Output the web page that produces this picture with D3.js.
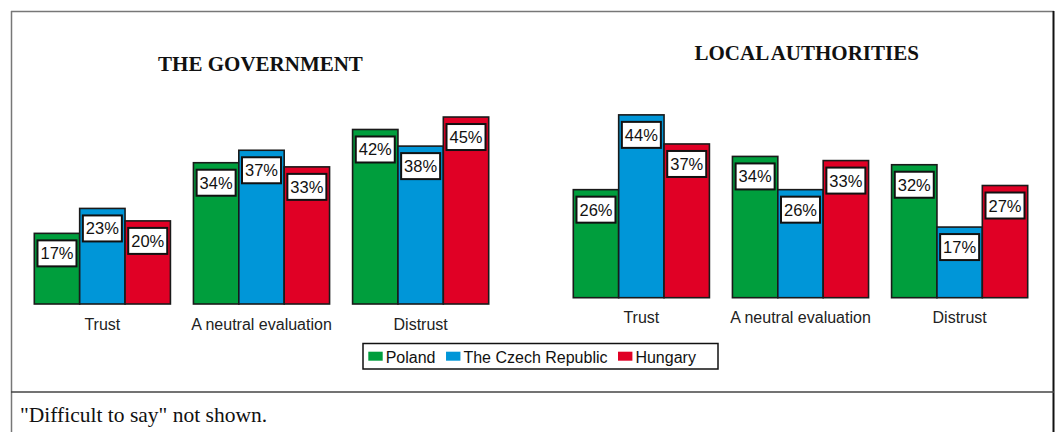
<!DOCTYPE html>
<html>
<head>
<meta charset="utf-8">
<script src="https://cdn.jsdelivr.net/npm/d3@7"></script>
<style>
  html, body { margin: 0; padding: 0; background: #fff; }
  svg { display: block; }
</style>
</head>
<body>
<svg id="chart" width="1057" height="432"></svg>
<script>
// ---- data ----
const categories = ["Trust", "A neutral evaluation", "Distrust"];
const seriesNames = ["Poland", "The Czech Republic", "Hungary"];
const seriesColors = ["#009e3d", "#0096d8", "#e00025"];
const panelTitles = ["THE GOVERNMENT", "LOCAL AUTHORITIES"];
const governmentPoland = [17, 34, 42];
const governmentCzech = [23, 37, 38];
const governmentHungary = [20, 33, 45];
const localPoland = [26, 34, 32];
const localCzech = [44, 26, 17];
const localHungary = [37, 33, 27];
const footnote = "\"Difficult to say\" not shown.";

const panels = [
  { title: panelTitles[0], values: [governmentPoland, governmentCzech, governmentHungary],
    x0: 34.3, x1: 488.7, base: 304, titleX: 260.5, titleY: 71, labelY: 330, ws: 0 },
  { title: panelTitles[1], values: [localPoland, localCzech, localHungary],
    x0: 573.3, x1: 1027.7, base: 297.7, titleX: 806.7, titleY: 60, labelY: 322.7, ws: -1.5 }
];

const svg = d3.select("#chart");
const sans = "'Liberation Sans', Arial, Helvetica, sans-serif";
const serif = "'Liberation Serif', 'Times New Roman', Times, serif";
const pxPerPct = 4.155;

// frame
svg.append("line").attr("x1", 11).attr("x2", 1054).attr("y1", 11.5).attr("y2", 11.5)
  .attr("stroke", "#777").attr("stroke-width", 1.5);
svg.append("line").attr("x1", 11.5).attr("x2", 11.5).attr("y1", 11).attr("y2", 432)
  .attr("stroke", "#777").attr("stroke-width", 1.5);
svg.append("line").attr("x1", 1053.5).attr("x2", 1053.5).attr("y1", 11).attr("y2", 432)
  .attr("stroke", "#111").attr("stroke-width", 2);
svg.append("line").attr("x1", 11).attr("x2", 1054).attr("y1", 392).attr("y2", 392)
  .attr("stroke", "#444").attr("stroke-width", 1.5);

panels.forEach(p => {
  const g = svg.append("g");
  const xGroup = d3.scaleBand().domain(categories).range([p.x0, p.x1])
    .paddingInner(23 / 159).paddingOuter(0);
  const xSeries = d3.scaleBand().domain(seriesNames).range([0, xGroup.bandwidth()]);
  const y = d3.scaleLinear().domain([0, 45]).range([p.base, p.base - 45 * pxPerPct]);

  g.append("text").attr("x", p.titleX).attr("y", p.titleY)
    .attr("text-anchor", "middle").attr("font-family", serif)
    .attr("font-weight", "bold").attr("font-size", 21).attr("word-spacing", p.ws)
    .attr("fill", "#111").text(p.title);

  const data = [];
  categories.forEach((c, ci) => {
    seriesNames.forEach((s, si) => {
      data.push({ cat: c, ser: s, si: si, v: p.values[si][ci] });
    });
  });

  const bar = g.selectAll("g.bar").data(data).enter().append("g").attr("class", "bar");
  bar.append("rect")
    .attr("x", d => xGroup(d.cat) + xSeries(d.ser))
    .attr("y", d => y(d.v))
    .attr("width", xSeries.bandwidth())
    .attr("height", d => y(0) - y(d.v))
    .attr("fill", d => seriesColors[d.si])
    .attr("stroke", "#1a1a1a").attr("stroke-width", 1.6);

  const bw = 39, bh = 26;
  bar.append("rect")
    .attr("x", d => xGroup(d.cat) + xSeries(d.ser) + xSeries.bandwidth() / 2 - bw / 2)
    .attr("y", d => y(d.v) + 7)
    .attr("width", bw).attr("height", bh)
    .attr("fill", "#fff").attr("stroke", "#111").attr("stroke-width", 2);
  bar.append("text")
    .attr("x", d => xGroup(d.cat) + xSeries(d.ser) + xSeries.bandwidth() / 2)
    .attr("y", d => y(d.v) + 7 + bh / 2 + 6)
    .attr("text-anchor", "middle").attr("font-family", sans).attr("font-size", 16.5)
    .attr("fill", "#111").text(d => d.v + "%");

  // category axis labels
  const axis = d3.axisBottom(xGroup).tickSize(0).tickPadding(0);
  const ax = g.append("g").attr("transform", `translate(0,${p.labelY})`).call(axis);
  ax.select(".domain").remove();
  ax.selectAll("text").attr("dy", null).attr("y", 0)
    .attr("font-family", sans).attr("font-size", 16).attr("fill", "#222");
});

// legend
const leg = svg.append("g");
leg.append("rect").attr("x", 363).attr("y", 343.5).attr("width", 355).attr("height", 25.5)
  .attr("fill", "#fff").attr("stroke", "#111").attr("stroke-width", 1.5);
let lx = 368.3;
seriesNames.forEach((s, i) => {
  leg.append("rect").attr("x", lx).attr("y", 351.7).attr("width", 14.4).attr("height", 9)
    .attr("fill", seriesColors[i]);
  const t = leg.append("text").attr("x", lx + 17.4).attr("y", 363.3)
    .attr("font-family", sans).attr("font-size", 16).attr("fill", "#111").text(s);
  lx = lx + 17.4 + t.node().getComputedTextLength() + 10.5;
});

// footnote
svg.append("text").attr("x", 20).attr("y", 422).attr("font-family", serif)
  .attr("font-size", 21.5).attr("fill", "#111").text(footnote);
</script>
</body>
</html>
